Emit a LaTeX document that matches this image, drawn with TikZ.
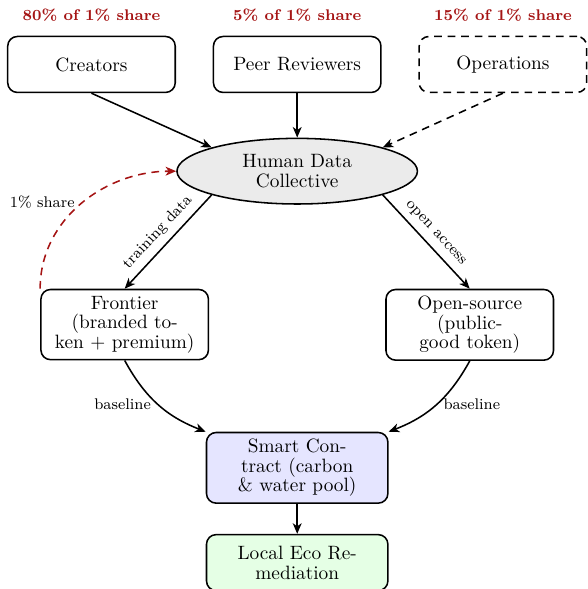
\documentclass[tikz,border=0pt]{standalone}
\usepackage{tikz}
\usetikzlibrary{positioning, arrows, arrows.meta, shapes}

\definecolor{sharered}{RGB}{165,20,20}
\newcommand{\boxfont}{\fontsize{10}{10.2}\selectfont}

\tikzset{
  box/.style={draw, thick, rounded corners=5pt, align=center, font=\boxfont,
    text width=76pt, minimum width=86.8pt, minimum height=29pt},
  widebox/.style={box, text width=87.3pt, minimum width=94pt},
  collective/.style={ellipse, draw, thick, fill=black!8, align=center, font=\boxfont,
    text width=60pt, inner sep=0pt, minimum width=124.6pt, minimum height=34pt},
  sharelbl/.style={font=\footnotesize\bfseries, text=sharered},
  lbl/.style={font=\footnotesize},
  dashline/.style={dash pattern=on 4pt off 3pt}
}

\begin{document}
\begin{tikzpicture}[>={Stealth[length=5.5pt, width=4.6pt, inset=1.6pt]}, thick]
  \useasboundingbox (0,0) rectangle (304.6pt,-305.2pt);
  % contributors
  \node[box] (creators) at (47.4pt,-33.4pt) {Creators};
  \node[box, right=19pt of creators] (peer) {Peer Reviewers};
  \node[box, dashline, right=19pt of peer] (ops) {Operations};
  \node[sharelbl, above=3.5pt of creators] (share80) {80\% of 1\% share};
  \node[sharelbl, above=3.5pt of peer] (share5) {5\% of 1\% share};
  \node[sharelbl, above=3.5pt of ops] (share15) {15\% of 1\% share};

  \node[collective, below=23pt of peer] (hdc) {Human Data Collective};

  % the two model tiers
  \node[box, below=43.5pt of hdc, xshift=-89.4pt] (frontier) {Frontier (branded token + premium)};
  \node[box, below=43.5pt of hdc, xshift=89.4pt] (open) {Open-source (public-good token)};

  \node[widebox, fill=blue!10, below=117.6pt of hdc] (smart) {Smart Contract (carbon \& water pool)};
  \node[widebox, fill=green!10, below=15.5pt of smart] (eco) {Local Eco Remediation};

  \draw[->] (creators.south) -- (hdc.north west);
  \draw[->] (peer) -- (hdc);
  \draw[->, dashline] (ops.south) -- (hdc.north east);
  \draw[->] (hdc.south west) -- node[lbl, sloped, above] {training data} (frontier.north);
  \draw[->] (hdc.south east) -- node[lbl, sloped, above] {open access} (open.north);
  \draw[->] (frontier.south) to[bend right=20] node[lbl, left] {baseline} (smart.north west);
  \draw[->] (open.south) to[bend left=20] node[lbl, right] {baseline} (smart.north east);
  \draw[->] (smart) -- (eco);
  \draw[->, dashline, draw=sharered] (frontier.north west) to[out=90, in=180] node[lbl, left, yshift=1pt] {1\% share} (hdc.west);
\end{tikzpicture}
\end{document}
